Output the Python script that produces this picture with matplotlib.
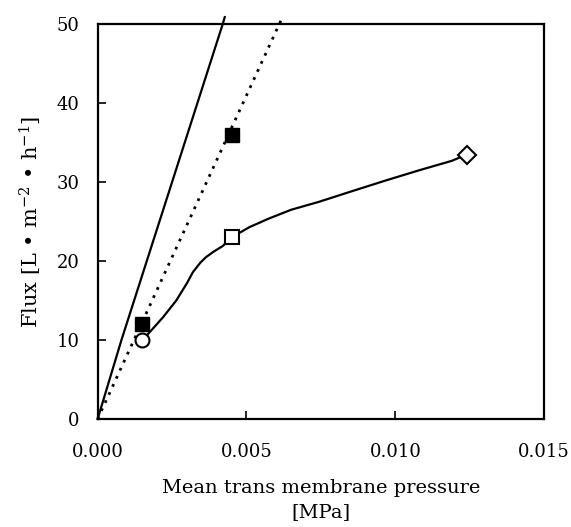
import matplotlib

matplotlib.use("Agg")
import matplotlib.pyplot as plt

plt.rcParams["font.family"] = ["DejaVu Serif"]
plt.rcParams["mathtext.fontset"] = "dejavuserif"

# measured points (MPa, L m-2 h-1)
filled_x = [0.0015, 0.0045]
filled_y = [12.0, 36.0]
circle_x = [0.0015]
circle_y = [10.0]
open_sq_x = [0.0045]
open_sq_y = [23.0]
diamond_x = [0.0124]
diamond_y = [33.5]

# model curves
steep_x = [0.0, 0.0008, 0.0042, 0.00427]
steep_y = [0.0, 10.0, 50.0, 50.9]
dotted_x = [0.0, 0.0061, 0.0062]
dotted_y = [0.0, 50.0, 50.8]
curve_x = [0.0015, 0.00175, 0.0022, 0.00264, 0.0030, 0.0032, 0.00345,
           0.00364, 0.0039, 0.0042, 0.0045, 0.0051, 0.00576, 0.0065,
           0.00743, 0.0085, 0.00967, 0.0108, 0.0119, 0.0124]
curve_y = [10.0, 11.0, 12.9, 15.0, 17.2, 18.6, 19.8,
           20.5, 21.2, 21.9, 23.0, 24.3, 25.4, 26.5,
           27.5, 28.8, 30.2, 31.5, 32.7, 33.5]

x_ticks = [0.000, 0.005, 0.010, 0.015]
x_tick_labels = ["0.000", "0.005", "0.010", "0.015"]
y_ticks = [0, 10, 20, 30, 40, 50]

fig = plt.figure(figsize=(5.71, 5.27), dpi=100)
ax = fig.add_axes([0.171, 0.205, 0.782, 0.749])

ax.plot(steep_x, steep_y, color="black", lw=1.6, clip_on=False)
ax.plot(dotted_x, dotted_y, color="black", lw=2.0, linestyle=(0, (1, 2.2)),
        clip_on=False)
ax.plot(curve_x, curve_y, color="black", lw=1.6)

ax.plot(filled_x, filled_y, "s", ms=10, mfc="black", mec="black", zorder=5)
ax.plot(circle_x, circle_y, "o", ms=10, mfc="white", mec="black", mew=1.5,
        zorder=5)
ax.plot(open_sq_x, open_sq_y, "s", ms=10, mfc="white", mec="black", mew=1.5,
        zorder=5)
ax.plot(diamond_x, diamond_y, "D", ms=9, mfc="white", mec="black", mew=1.5,
        zorder=5)

ax.set_xlim(0, 0.015)
ax.set_ylim(0, 50)
ax.set_xticks(x_ticks)
ax.set_xticklabels(x_tick_labels)
ax.set_yticks(y_ticks)
ax.tick_params(direction="in", length=6, width=1.2, labelsize=13)
ax.tick_params(axis="x", pad=17)
ax.tick_params(axis="y", pad=13)
for s in ax.spines.values():
    s.set_linewidth(1.6)

ax.set_xlabel("Mean trans membrane pressure\n[MPa]", fontsize=14,
              labelpad=13, linespacing=1.45)
ax.set_ylabel(r"Flux [L • m$^{-2}$ • h$^{-1}$]", fontsize=15, labelpad=9)

fig.savefig("out.png", dpi=100)
